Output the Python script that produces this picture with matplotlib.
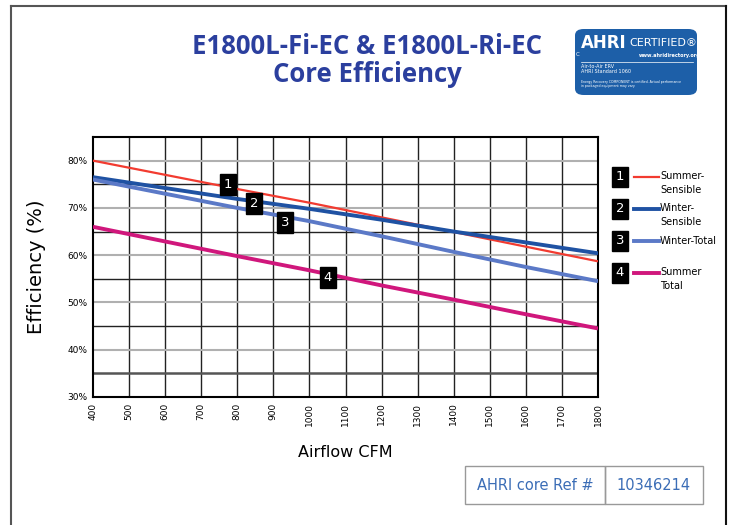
import numpy as np
import matplotlib
matplotlib.use("Agg")
import matplotlib.pyplot as plt
from matplotlib.patches import FancyBboxPatch, Rectangle
from matplotlib.lines import Line2D

# donnees
airflow = [400, 800, 1000, 1200, 1400, 1600, 1800]
summer_sensible = [80.0, 74.0, 71.1, 68.0, 64.9, 61.8, 58.7]
winter_sensible = [76.5, 71.9, 69.8, 67.5, 65.0, 62.7, 60.4]
winter_total = [76.0, 70.0, 67.2, 64.0, 60.7, 57.5, 54.5]
summer_total = [66.0, 59.8, 56.8, 53.6, 50.6, 47.5, 44.5]

series_names = ["Summer-\nSensible", "Winter-\nSensible", "Winter-Total", "Summer\nTotal"]
series_colors = ["#f23b30", "#1f52a3", "#5b79c7", "#d0177c"]
series_widths = [1.6, 2.8, 2.8, 2.8]

# position des etiquettes numerotees sur les courbes
label_x = [774, 846, 932, 1051]
label_y = [74.9, 70.9, 67.0, 55.3]

x_ticks = list(range(400, 1900, 100))
y_ticks = [30, 40, 50, 60, 70, 80]

title_color = "#2b3f9e"
ref_label = "AHRI core Ref #"
ref_number = "10346214"


def main():
    fig = plt.figure(figsize=(7.31, 5.25), dpi=100)

    # cadre de la page
    fig.add_artist(Line2D([11/731, 11/731], [0, 1 - 6/525], color="#555555", lw=1.5, transform=fig.transFigure))
    fig.add_artist(Line2D([11/731, 726/731], [1 - 6/525, 1 - 6/525], color="#555555", lw=1.5, transform=fig.transFigure))
    fig.add_artist(Line2D([726/731, 726/731], [0, 1 - 6/525], color="#111111", lw=1.5, transform=fig.transFigure))

    fig.text(367/731, 1 - 46/525, "E1800L-Fi-EC & E1800L-Ri-EC", ha="center", va="center",
             fontsize=18.5, fontweight="bold", color=title_color, family="Open Sans")
    fig.text(367/731, 1 - 75/525, "Core Efficiency", ha="center", va="center",
             fontsize=18.5, fontweight="bold", color=title_color, family="Open Sans")

    dessiner_logo(fig)

    ax = fig.add_axes([93/731, 1 - 397/525, 505/731, 260/525])
    ax.set_xlim(400, 1800)
    ax.set_ylim(30, 85)

    # grille
    for v in range(500, 1800, 100):
        ax.axvline(v, color="#222222", lw=1.0, zorder=1)
    for v in range(40, 85, 10):
        ax.axhline(v, color="#b0b0b0", lw=1.5, zorder=1)
    for v in range(45, 85, 10):
        ax.axhline(v, color="#222222", lw=1.0, zorder=1)
    ax.axhline(35, color="#555555", lw=1.8, zorder=1)

    series = [summer_sensible, winter_sensible, winter_total, summer_total]
    for vals, c, w in zip(series, series_colors, series_widths):
        ax.plot(airflow, vals, color=c, lw=w, zorder=3, solid_capstyle="butt")

    for i in range(4):
        ax.text(label_x[i], label_y[i], str(i + 1), ha="center", va="center", color="white",
                fontsize=9.5, zorder=5,
                bbox=dict(boxstyle="square,pad=0.3", fc="black", ec="black"))

    for s in ax.spines.values():
        s.set_linewidth(1.5)
        s.set_color("black")

    ax.set_xticks(x_ticks)
    ax.set_xticklabels([str(t) for t in x_ticks], rotation=90, fontsize=6.5)
    ax.set_yticks(y_ticks)
    ax.set_yticklabels([f"{t}%" for t in y_ticks], fontsize=6.5)
    ax.tick_params(length=0, pad=4)
    ax.set_xlabel("Airflow CFM", fontsize=11.5, labelpad=14)
    ax.set_ylabel("Efficiency (%)", fontsize=14, labelpad=15)

    # legende a droite
    leg_y = [177, 209, 241, 273]
    for i in range(4):
        yy = 1 - leg_y[i] / 525
        fig.text(620/731, yy, str(i + 1), ha="center", va="center", color="white", fontsize=9.5,
                 bbox=dict(boxstyle="square,pad=0.3", fc="black", ec="black"))
        fig.add_artist(Line2D([634/731, 659/731], [yy, yy], color=series_colors[i],
                              lw=series_widths[i], transform=fig.transFigure))
        if "\n" in series_names[i]:
            fig.text(660/731, yy + 6/525, series_names[i], ha="left", va="top",
                     fontsize=7, linespacing=1.5)
        else:
            fig.text(660/731, yy, series_names[i], ha="left", va="center", fontsize=7)

    # tableau de reference
    fig.add_artist(Rectangle((465/731, 1 - 504/525), 140/731, 38/525, fill=False,
                             ec="#999999", lw=1, transform=fig.transFigure))
    fig.add_artist(Rectangle((605/731, 1 - 504/525), 98/731, 38/525, fill=False,
                             ec="#999999", lw=1, transform=fig.transFigure))
    fig.text(535/731, 1 - 485/525, ref_label, ha="center", va="center", fontsize=10.5, color="#3b6db6")
    fig.text(654/731, 1 - 485/525, ref_number, ha="center", va="center", fontsize=10.5, color="#3b6db6")

    fig.savefig("out.png", dpi=100)


def dessiner_logo(fig):
    logo = FancyBboxPatch((575/731, 1 - 95/525), 122/731, 66/525,
                          boxstyle="round,pad=0,rounding_size=0.012",
                          fc="#1d5fa8", ec="none", transform=fig.transFigure)
    fig.add_artist(logo)
    fig.text(581/731, 1 - 43/525, "AHRI", ha="left", va="center", fontsize=12, fontweight="bold",
             color="white", family="DejaVu Sans")
    fig.text(629/731, 1 - 43/525, "CERTIFIED®", ha="left", va="center", fontsize=8,
             color="white")
    fig.text(639/731, 1 - 55/525, "www.ahridirectory.org", ha="left", va="center", fontsize=3.5,
             color="white", fontweight="bold")
    fig.text(576/731, 1 - 55/525, "C", ha="left", va="center", fontsize=4, color="white")
    fig.add_artist(Line2D([581/731, 693/731], [1 - 62/525, 1 - 62/525], color="white", lw=0.5,
                          transform=fig.transFigure))
    fig.text(581/731, 1 - 69/525, "Air-to-Air ERV\nAHRI Standard 1060", ha="left", va="center",
             fontsize=3.5, color="white", linespacing=1.2)
    fig.text(581/731, 1 - 84/525, "Energy Recovery COMPONENT is certified. Actual performance\nin packaged equipment may vary.",
             ha="left", va="center", fontsize=2.3, color="white", linespacing=1.2)


main()
